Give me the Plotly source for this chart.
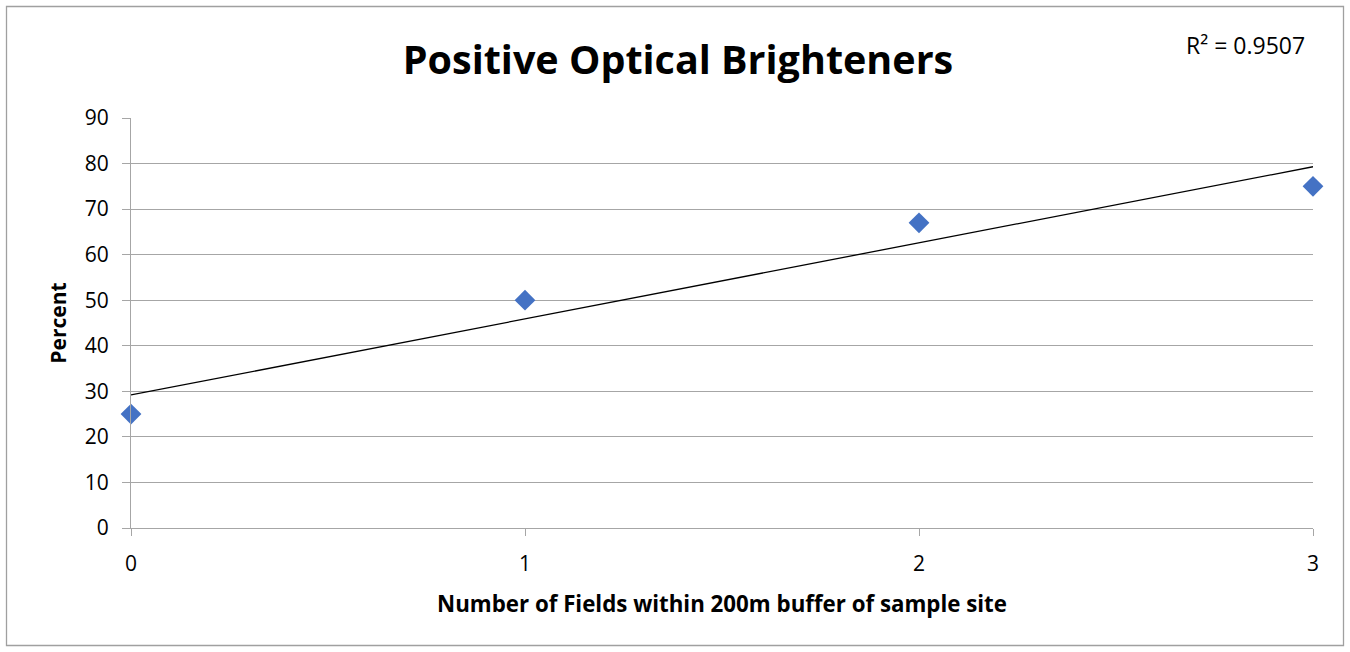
import numpy as np
import plotly.graph_objects as go

fields = [0, 1, 2, 3]
percent = [25, 50, 67, 75]
y_ticks = [0, 10, 20, 30, 40, 50, 60, 70, 80, 90]
x_ticks = [0, 1, 2, 3]

slope, intercept = np.polyfit(fields, percent, 1)
pred = np.polyval([slope, intercept], fields)
ss_res = np.sum((np.array(percent) - pred) ** 2)
ss_tot = np.sum((np.array(percent) - np.mean(percent)) ** 2)
r2 = 1 - ss_res / ss_tot
trend_x = [min(fields), max(fields)]
trend_y = list(np.polyval([slope, intercept], trend_x))

FONT = "Open Sans"
GRID = "#a6a6a6"

fig = go.Figure()
fig.add_trace(go.Scatter(x=trend_x, y=trend_y, mode="lines",
                         line=dict(color="black", width=1.3), showlegend=False,
                         cliponaxis=False, hoverinfo="skip"))
fig.add_trace(go.Scatter(x=fields, y=percent, mode="markers",
                         marker=dict(symbol="diamond", size=16, color="#4472C4"),
                         showlegend=False, cliponaxis=False))

L, R, T, B = 131, 37, 118, 124
W, H = 1350, 652
pw, ph = W - L - R, H - T - B

fig.update_layout(
    width=W, height=H,
    margin=dict(l=L, r=R, t=T, b=B),
    paper_bgcolor="white", plot_bgcolor="white",
    font=dict(family=FONT, color="black", size=21),
    title=dict(text="<b>Positive Optical Brighteners</b>", font=dict(size=39.5, family=FONT),
               xref="container", yref="container", x=678 / W, xanchor="center",
               y=1 - 60 / H, yanchor="middle"),
    xaxis=dict(range=[0, 3], tickvals=x_ticks, ticktext=[str(v) for v in x_ticks],
               showgrid=False, zeroline=False, showline=True, linecolor=GRID, linewidth=1.3,
               ticks="outside", ticklen=7, tickcolor=GRID, tickwidth=1.3,
               tickfont=dict(size=21), ticklabelstandoff=10,
               title=dict(text="<b>Number of Fields within 200m buffer of sample site</b>",
                          font=dict(size=22.3), standoff=20)),
    yaxis=dict(range=[0, 90], tickvals=y_ticks,
               showgrid=True, gridcolor=GRID, gridwidth=1.3, zeroline=False,
               showline=True, linecolor=GRID, linewidth=1.3,
               ticks="outside", ticklen=8, tickcolor=GRID, tickwidth=1.3,
               tickfont=dict(size=21), ticklabelstandoff=9,
               title=dict(text="<b>Percent</b>", font=dict(size=21), standoff=12)),
    annotations=[dict(text=f"R² = {r2:.4f}", xref="paper", yref="paper",
                      x=(1307 - L) / pw, y=(H - B - 45) / ph, xanchor="right", yanchor="middle",
                      showarrow=False, font=dict(size=23))],
    shapes=[dict(type="rect", xref="paper", yref="paper",
                 x0=(6.5 - L) / pw, x1=(1343.5 - L) / pw,
                 y0=(H - B - 645.5) / ph, y1=(H - B - 6.5) / ph,
                 line=dict(color="#a0a0a0", width=1.3), layer="below")],
)

fig.write_html("out.html", config={"displayModeBar": False})
with open("out.html", encoding="utf-8") as f:
    html = f.read()
html = html.replace("<body>", '<body style="margin:0;padding:0;overflow:hidden">', 1)
with open("out.html", "w", encoding="utf-8") as f:
    f.write(html)
